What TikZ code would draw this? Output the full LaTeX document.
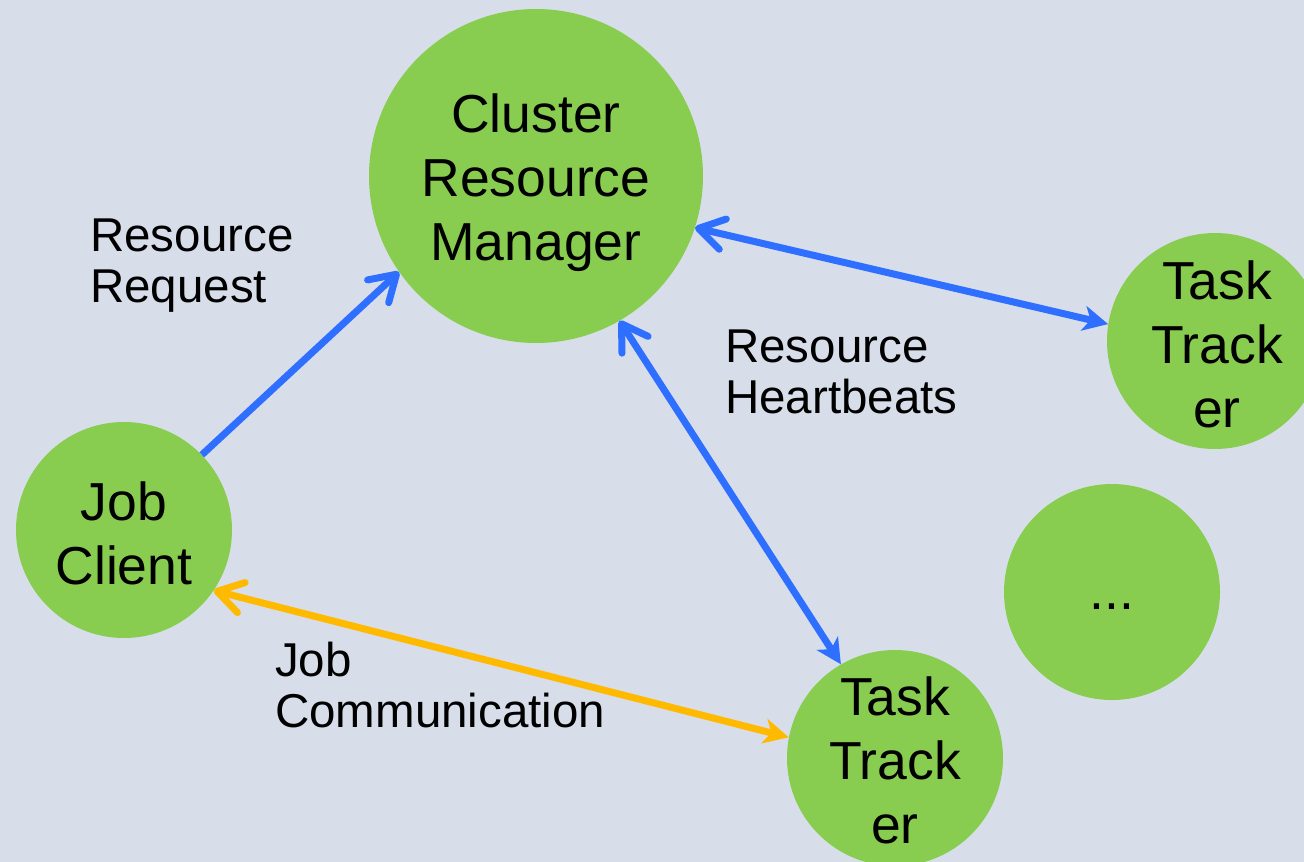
\documentclass[tikz,border=0pt]{standalone}
\usepackage{fontspec}
\setmainfont{Liberation Sans}
\usetikzlibrary{arrows.meta}

\definecolor{bgcol}{HTML}{D7DEEA}
\definecolor{nodegreen}{HTML}{88CD50}
\definecolor{linkblue}{HTML}{2F6FFF}
\definecolor{linkorange}{HTML}{FFBA00}

\begin{document}
\begin{tikzpicture}[x=1pt,y=-1pt,
  circ/.style={circle, fill=nodegreen, draw=none, inner sep=0pt, minimum size=216pt},
  bigcirc/.style={circ, minimum size=334pt},
  ctext/.style={align=center, inner sep=0pt, font=\fontsize{53.5}{64}\selectfont},
  lbl/.style={align=left, anchor=west, inner sep=0pt, font=\fontsize{47.5}{51}\selectfont},
  barb/.tip={Straight Barb[length=25pt, width=31pt, round]},
  head/.tip={Stealth[length=25pt, width=25pt, inset=7pt]},
  link/.style={line width=7pt, draw=linkblue},
  joblink/.style={link, draw=linkorange}
]
\useasboundingbox (0,0) rectangle (1304,862);
\fill[bgcol] (0,0) rectangle (1304,862);
\clip (0,0) rectangle (1304,862);

% nodes
\node[bigcirc] (crm) at (536,176) {};
\node[circ] (jc)  at (124,530) {};
\node[circ] (ttb) at (895,758) {};
\node[circ] (ttr) at (1215,341) {};
\node[circ] (more) at (1112,592) {};

\node[ctext] (crmtext) at (536,183) {Cluster\\Resource\\Manager};
\node[ctext] (jctext)  at (124,533) {Job\\Client};
\node[ctext] (ttbtext) at (895,760) {Task\\Track\\er};
\node[ctext] (ttrtext) at (1217,344) {Task\\Track\\er};
\node[ctext, anchor=base] (moretext) at (1112,609) {...};

% connectors
\draw[link, -barb] (jc.44.6) -- (crm.215.9);
\draw[link, barb-head] (crm.-18) -- (ttr.171.6);
\draw[link, barb-head] (crm.-60.5) -- (ttb.120.6);
\draw[joblink, barb-head] (jc.-34.7) -- (ttb.169.6);

% labels
\node[lbl] (reqlabel) at (90,266) {Resource\\Request};
\node[lbl] (hblabel)  at (725,372) {Resource\\Heartbeats};
\node[lbl] (jclabel)  at (275,685) {Job\\Communication};
\end{tikzpicture}
\end{document}
